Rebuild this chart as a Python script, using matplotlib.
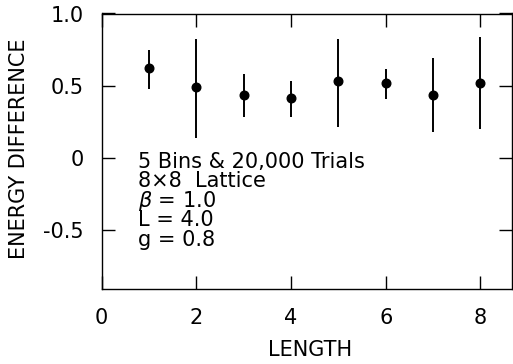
import numpy as np
import matplotlib.pyplot as plt

# energy difference vs. length, 8x8 lattice
length = [1, 2, 3, 4, 5, 6, 7, 8]
energy_diff = [0.62, 0.49, 0.435, 0.415, 0.53, 0.515, 0.435, 0.52]
err_low = [0.475, 0.135, 0.28, 0.28, 0.21, 0.41, 0.175, 0.195]
err_high = [0.75, 0.825, 0.58, 0.53, 0.82, 0.615, 0.69, 0.84]

xticks = [0, 2, 4, 6, 8]
xticklabels = ["0", "2", "4", "6", "8"]
yticks = [-0.5, 0, 0.5, 1.0]
yticklabels = ["-0.5", "0", "0.5", "1.0"]

info_lines = ["5 Bins & 20,000 Trials", "8\u00d78  Lattice",
              r"$\beta$ = 1.0", "L = 4.0", "g = 0.8"]

plt.rcParams['font.family'] = ['DejaVu Sans']
plt.rcParams['mathtext.fontset'] = 'dejavusans'
FS = 15

W, H = 513, 364
fig = plt.figure(figsize=(W / 100, H / 100), dpi=100)
ax = fig.add_axes([101.7 / W, 1 - 289 / H, 410 / W, (289 - 13.5) / H])

y = np.array(energy_diff)
yerr = [y - np.array(err_low), np.array(err_high) - y]
ax.errorbar(length, y, yerr=yerr, fmt='o', color='black', ms=6.2,
            elinewidth=1.4, capsize=0)

ax.set_xlim(0, 8.66)
ax.set_ylim(-0.912, 1.0)
ax.set_xticks(xticks)
ax.set_xticklabels(xticklabels)
ax.set_yticks(yticks)
ax.set_yticklabels(yticklabels)
ax.tick_params(direction='in', length=9.5, width=1.0, top=True, right=True,
               labelsize=FS, color='black')
ax.tick_params(axis='x', pad=14)
ax.tick_params(axis='y', pad=13)
for s in ax.spines.values():
    s.set_linewidth(1.0)

fig.text(19 / W, 1 - 149 / H, "ENERGY DIFFERENCE", rotation=90,
         ha='center', va='center', fontsize=FS)
fig.text(310 / W, 1 - 350 / H, "LENGTH", ha='center', va='center',
         fontsize=FS)

baselines = [168, 187.5, 207, 226.5, 245.5]
for line, yb in zip(info_lines, baselines):
    fig.text(138 / W, 1 - yb / H, line, ha='left', va='baseline', fontsize=FS)

fig.savefig("out.png", dpi=100)
